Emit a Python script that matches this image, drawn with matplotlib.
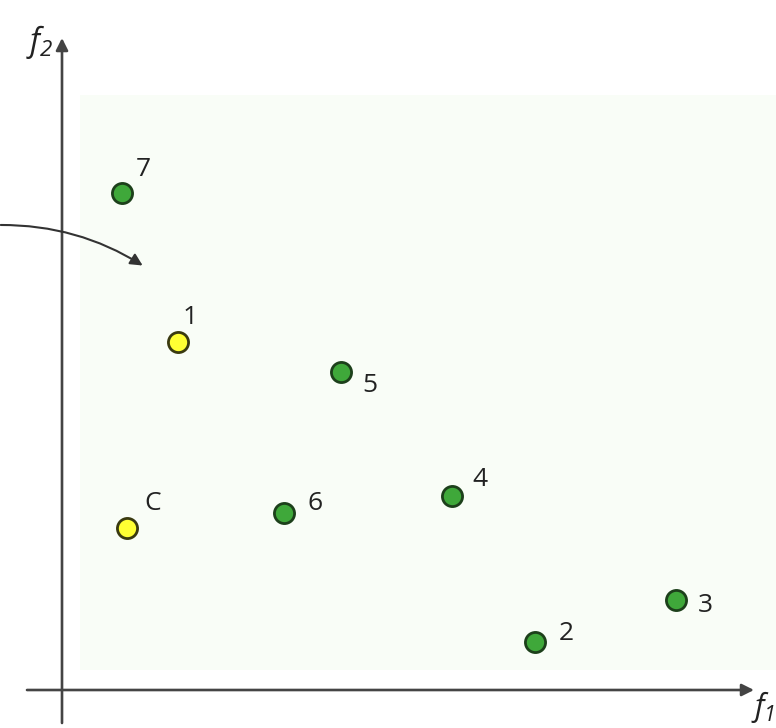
import matplotlib
matplotlib.use("Agg")
import matplotlib.pyplot as plt
from matplotlib.patches import Rectangle, FancyArrowPatch

plt.rcParams['font.family'] = ['Open Sans', 'DejaVu Sans']
plt.rcParams['mathtext.fontset'] = 'custom'
plt.rcParams['mathtext.it'] = 'Open Sans:italic'
plt.rcParams['mathtext.rm'] = 'Open Sans:italic'

# objective values (f1, f2) for each solution
names = ['7', '1', '5', 'C', '6', '4', '3', '2']
f1 = [60, 116, 279, 65, 222, 390, 614, 473]
f2 = [497, 348, 318, 162, 177, 194, 90, 48]
kind = ['g', 'y', 'g', 'y', 'g', 'g', 'g', 'g']
# label offsets from each point
lab_dx = [21, 12, 29, 26, 31, 28, 29, 31]
lab_dy = [23, 25, -14, 25, 10, 17, -5, 8]

fill = {'g': '#3fa83a', 'y': '#ffff33'}
edge = {'g': '#1d401b', 'y': '#3a3a10'}

fig = plt.figure(figsize=(7.76, 7.28), dpi=100)
ax = fig.add_axes([0, 0, 1, 1])
ax.set_xlim(-62, 714)
ax.set_ylim(-38, 690)
ax.axis('off')

# pale shaded region
ax.add_patch(Rectangle((18, 20), 700, 575, facecolor='#f9fdf7', edgecolor='none', zorder=0))

# axes with arrow heads
ax.annotate('', xy=(692, 0), xytext=(-35, 0),
            arrowprops=dict(arrowstyle='-|>', color='#444444', lw=1.9, mutation_scale=18,
                            shrinkA=0, shrinkB=0))
ax.annotate('', xy=(0, 652), xytext=(0, -33),
            arrowprops=dict(arrowstyle='-|>', color='#444444', lw=1.9, mutation_scale=18,
                            shrinkA=0, shrinkB=0))
ax.text(701, -17, r'$f_1$', fontsize=22, ha='center', va='center', color='#222222')
ax.text(-22, 648, r'$f_2$', fontsize=23, ha='center', va='center', color='#222222')

# curved arrow entering from the left
ax.add_patch(FancyArrowPatch((-64, 465), (83, 423), connectionstyle='arc3,rad=-0.15',
                             arrowstyle='-|>', mutation_scale=18, color='#333333', lw=1.5,
                             zorder=3))

for n, x, y, k, dx, dy in zip(names, f1, f2, kind, lab_dx, lab_dy):
    ax.scatter(x, y, s=210, c=fill[k], edgecolors=edge[k], linewidths=2, zorder=4)
    ax.text(x + dx, y + dy, n, fontsize=19, ha='center', va='center', color='#222222')

fig.savefig('out.png', dpi=100)
